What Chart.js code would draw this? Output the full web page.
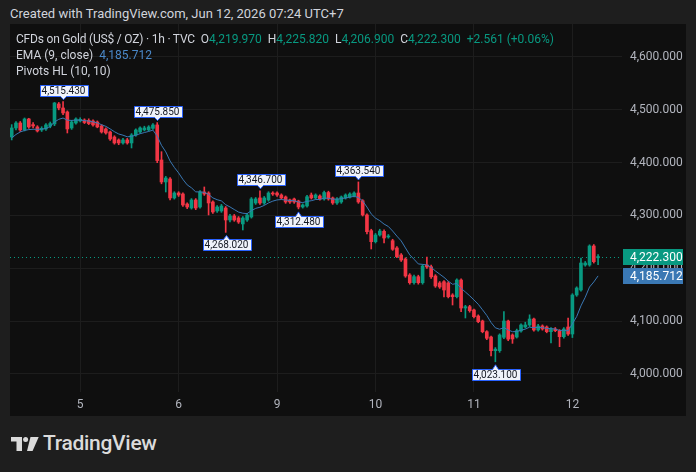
<!DOCTYPE html>
<html>
<head>
<meta charset="utf-8">
<script src="https://cdn.jsdelivr.net/npm/chart.js@4.4.1/dist/chart.umd.min.js"></script>
<style>
  body { margin: 0; width: 696px; height: 472px; background: #1e1e1e; overflow: hidden; position: relative; font-family: Roboto, sans-serif; }
  #hdr { position: absolute; left: 10px; top: 4px; font-size: 13px; line-height: 19px; color: #d1d4dc; white-space: nowrap; }
  #panel { position: absolute; left: 10px; top: 24px; width: 676px; height: 392px; background: #0f0f0f; }
  #legend { position: absolute; left: 16px; top: 31px; font-size: 12px; line-height: 16px; color: #d1d4dc; white-space: nowrap; }
  .tight { letter-spacing: -0.2px; }
  .g { color: #089981; }
  .b { color: #4a88c8; }
  #foot { position: absolute; left: 43px; top: 431px; font-size: 21px; line-height: 24px; font-weight: 500; color: #dbdbdb; letter-spacing: -0.3px; }
  #logo { position: absolute; left: 11px; top: 437px; }
</style>
</head>
<body>
<div id="hdr">Created with TradingView.com, Jun 12, 2026 07:24 UTC+7</div>
<div id="panel"><canvas id="c"></canvas></div>
<div id="legend">
  <div><span class="tight">CFDs on Gold (US$ / OZ) · 1h · TVC</span>&nbsp; O<span class="g">4,219.970</span>&nbsp; H<span class="g">4,225.820</span>&nbsp; L<span class="g">4,206.900</span>&nbsp; C<span class="g">4,222.300</span>&nbsp; <span class="g">+2.561 (+0.06%)</span></div>
  <div>EMA (9, close)&nbsp; <span class="b">4,185.712</span></div>
  <div>Pivots HL (10, 10)</div>
</div>
<svg id="logo" width="28" height="14" viewBox="0 0 28 14">
  <path d="M0 0H11V14H5.5V4.6H0Z" fill="#dbdbdb"/>
  <circle cx="14.6" cy="2.5" r="2.5" fill="#dbdbdb"/>
  <path d="M19.5 0H27.7L21.6 14H16Z" fill="#dbdbdb"/>
</svg>
<div id="foot">TradingView</div>

<script>
// hourly candles
const opens = [4448.6,4465.7,4475.1,4462.0,4482.7,4472.0,4467.6,4461.9,4463.8,4469.0,
  4473.3,4511.1,4503.5,4496.0,4465.7,4475.1,4479.0,4480.8,4480.0,4478.9,
  4477.0,4469.5,4463.8,4458.1,4448.6,4443.0,4437.3,4443.0,4437.3,4452.4,
  4458.1,4462.0,4462.0,4465.0,4471.4,4405.1,4363.5,4369.1,4333.2,4342.6,
  4340.7,4321.8,4314.2,4329.4,4316.1,4344.5,4342.6,4325.6,4308.6,4308.6,
  4314.2,4291.5,4299.1,4295.3,4284.0,4291.5,4297.2,4323.7,4333.2,4323.7,
  4329.4,4342.6,4342.6,4338.8,4335.1,4329.4,4331.3,4327.5,4316.1,4318.0,
  4338.8,4333.2,4336.9,4331.3,4343.5,4333.2,4323.7,4325.6,4333.2,4335.1,
  4336.9,4342.6,4328.0,4301.0,4271.3,4250.5,4263.1,4270.0,4259.3,4252.3,
  4238.5,4225.3,4217.7,4187.4,4172.8,4184.2,4172.8,4206.3,4203.0,4185.5,
  4172.3,4174.7,4172.3,4149.5,4146.3,4177.9,4124.9,4127.4,4121.2,4109.8,
  4100.3,4080.1,4070.0,4044.1,4044.1,4069.5,4100.3,4073.8,4070.0,4081.4,
  4089.0,4092.8,4104.1,4083.3,4090.9,4089.0,4080.1,4085.2,4082.0,4070.6,
  4089.0,4075.7,4149.5,4159.0,4206.3,4206.3,4242.3,4219.97];
const highs = [4472.0,4478.0,4478.0,4484.6,4484.0,4476.0,4470.0,4468.0,4474.0,4477.0,
  4514.0,4514.0,4515.43,4498.0,4480.0,4485.0,4485.0,4483.0,4483.0,4481.0,
  4479.0,4472.0,4466.0,4460.0,4451.0,4445.0,4446.0,4446.0,4455.0,4464.0,
  4468.0,4469.0,4470.0,4474.0,4475.85,4420.8,4374.0,4372.0,4345.0,4345.0,
  4343.0,4324.0,4332.0,4332.0,4347.0,4354.0,4345.0,4328.0,4319.0,4321.0,
  4317.0,4302.0,4302.0,4298.0,4298.0,4304.0,4334.0,4334.0,4346.7,4336.0,
  4345.0,4345.0,4345.0,4341.0,4337.0,4331.0,4333.0,4329.0,4322.0,4338.0,
  4342.6,4341.0,4339.0,4346.0,4346.0,4335.0,4334.0,4337.0,4341.0,4343.0,
  4345.0,4363.54,4330.0,4303.0,4274.0,4266.0,4274.0,4273.0,4264.0,4255.0,
  4241.0,4228.0,4220.0,4190.0,4187.0,4187.0,4207.0,4221.5,4206.0,4188.0,
  4175.0,4177.0,4175.0,4152.0,4180.0,4180.0,4130.0,4130.0,4123.0,4112.0,
  4102.0,4082.0,4072.0,4050.0,4076.0,4118.0,4102.0,4076.0,4085.0,4095.0,
  4098.0,4112.0,4106.0,4094.0,4093.0,4091.0,4088.0,4088.0,4084.0,4088.0,
  4106.0,4152.0,4165.0,4219.6,4213.0,4244.5,4245.0,4225.82];
const lows = [4443.0,4462.0,4459.0,4460.0,4465.0,4466.0,4458.0,4459.0,4461.0,4466.0,
  4470.0,4500.0,4491.0,4456.2,4463.0,4473.0,4477.0,4474.0,4472.0,4469.0,
  4466.0,4456.0,4454.0,4442.0,4435.0,4434.0,4435.0,4435.0,4427.8,4450.0,
  4456.0,4460.0,4460.0,4463.0,4400.0,4360.0,4344.5,4329.4,4331.0,4336.0,
  4317.0,4313.0,4312.0,4311.0,4314.0,4338.0,4301.0,4304.0,4306.0,4306.0,
  4268.02,4288.0,4289.0,4285.0,4272.6,4289.0,4295.0,4321.0,4321.0,4321.0,
  4327.0,4338.0,4336.0,4331.0,4323.0,4323.0,4323.0,4312.48,4314.0,4316.0,
  4331.0,4331.0,4329.0,4329.0,4329.0,4321.0,4321.0,4323.0,4331.0,4333.0,
  4335.0,4323.0,4299.0,4265.0,4236.6,4248.0,4261.0,4248.0,4257.0,4234.0,
  4220.0,4213.0,4183.0,4170.0,4170.0,4170.0,4170.0,4200.0,4181.0,4164.0,
  4162.0,4146.0,4144.0,4130.6,4144.0,4118.0,4106.0,4117.0,4106.0,4097.0,
  4078.0,4065.0,4034.0,4023.1,4041.0,4067.0,4063.0,4058.0,4068.0,4079.0,
  4087.0,4090.0,4081.0,4081.0,4083.0,4078.0,4059.0,4080.0,4051.7,4068.0,
  4073.0,4069.0,4147.0,4157.0,4204.0,4204.0,4210.0,4206.9];
const closes = [4465.7,4475.1,4461.9,4482.7,4467.6,4469.5,4460.0,4465.0,4471.4,4474.0,
  4513.0,4503.5,4494.1,4463.8,4477.0,4482.7,4482.0,4476.0,4474.0,4471.4,
  4467.6,4458.1,4456.2,4444.8,4437.3,4437.3,4443.0,4437.3,4452.4,4461.9,
  4465.7,4465.7,4467.6,4471.4,4404.0,4363.5,4371.0,4333.2,4342.6,4338.8,
  4319.9,4316.1,4329.4,4314.2,4344.5,4340.7,4323.7,4306.7,4316.1,4318.0,
  4291.5,4299.1,4291.5,4287.7,4295.3,4301.0,4331.3,4331.3,4323.7,4333.2,
  4342.6,4340.7,4338.8,4333.2,4325.6,4325.6,4325.6,4316.1,4319.9,4335.5,
  4333.2,4338.8,4331.3,4343.5,4331.3,4323.7,4331.3,4335.1,4338.8,4340.7,
  4342.6,4325.6,4301.0,4269.4,4250.5,4263.1,4270.7,4257.4,4261.2,4236.0,
  4222.0,4215.8,4185.5,4172.8,4184.2,4172.8,4204.4,4202.6,4184.0,4166.6,
  4164.7,4159.0,4146.3,4146.3,4177.9,4124.9,4127.4,4119.8,4108.5,4099.0,
  4080.1,4067.6,4044.1,4047.0,4073.8,4100.3,4066.0,4066.3,4082.0,4092.8,
  4092.8,4104.1,4083.3,4090.9,4085.2,4080.1,4085.2,4082.0,4070.6,4085.2,
  4075.7,4149.5,4162.8,4210.1,4210.0,4242.3,4212.6,4222.3];
// EMA (9, close) line as drawn
const ema = [4446.7,4453.4,4458.1,4461.0,4462.6,4463.2,4463.2,4463.4,4464.7,4468.5,
  4477.0,4482.0,4484.5,4480.4,4480.0,4480.5,4480.6,4479.7,4478.6,4477.2,
  4475.3,4471.8,4468.7,4463.9,4458.6,4454.3,4452.0,4449.0,4449.7,4452.0,
  4454.8,4457.0,4459.1,4461.6,4450.1,4432.8,4420.5,4403.1,4391.0,4380.6,
  4368.4,4358.0,4352.4,4344.7,4344.7,4343.9,4339.9,4333.3,4329.9,4327.6,
  4320.4,4316.2,4311.3,4306.5,4304.3,4303.6,4309.1,4313.5,4315.6,4319.1,
  4323.8,4327.2,4329.5,4330.2,4329.3,4328.5,4328.0,4325.6,4324.5,4326.7,
  4328.0,4330.2,4330.4,4333.0,4332.6,4330.8,4330.9,4331.8,4333.2,4334.7,
  4336.3,4334.2,4327.6,4316.0,4303.0,4295.0,4290.2,4283.7,4279.2,4270.6,
  4260.9,4251.9,4238.6,4225.5,4217.2,4208.3,4207.5,4206.5,4202.0,4195.0,
  4189.0,4183.0,4175.7,4169.8,4171.4,4162.1,4155.2,4148.1,4140.2,4132.0,
  4121.6,4110.8,4097.5,4087.4,4084.7,4087.8,4083.4,4080.0,4080.4,4082.9,
  4084.9,4088.7,4087.6,4088.3,4087.7,4086.2,4086.0,4085.2,4082.3,4082.9,
  4081.5,4095.1,4108.7,4129.0,4145.2,4164.6,4174.2,4185.712];

const dayIdx = [16, 39, 62, 85, 108, 131];
const dayLabels = ['5', '6', '9', '10', '11', '12'];
const priceTicks = [4000, 4100, 4200, 4300, 4400, 4500, 4600];

const pivotIdx = [12, 34, 50, 58, 67, 81, 113];
const pivotVal = [4515.43, 4475.85, 4268.02, 4346.70, 4312.48, 4363.54, 4023.10];
const pivotType = ['H', 'H', 'L', 'H', 'L', 'H', 'L'];

const UP = '#089981', DOWN = '#f23645', EMA_COL = '#3a78b4';
const fmt = v => v.toLocaleString('en-US', { minimumFractionDigits: 3, maximumFractionDigits: 3 });
const candleCol = opens.map((o, i) => closes[i] >= o ? UP : DOWN);

Chart.defaults.font.family = 'Roboto';

const marks = {
  id: 'marks',
  beforeDatasetsDraw(chart) {
    const { ctx, chartArea: a, scales: { y } } = chart;
    const py = Math.round(y.getPixelForValue(closes[closes.length - 1])) + 0.5;
    ctx.save();
    ctx.strokeStyle = UP;
    ctx.lineWidth = 1;
    ctx.setLineDash([1, 3]);
    ctx.beginPath();
    ctx.moveTo(a.left, py);
    ctx.lineTo(a.right, py);
    ctx.stroke();
    ctx.restore();
  },
  afterDraw(chart) {
    const { ctx, chartArea: a, scales: { x, y } } = chart;
    ctx.save();
    ctx.font = '10px Roboto';
    ctx.textBaseline = 'middle';
    ctx.textAlign = 'center';
    ctx.lineWidth = 1;
    pivotIdx.forEach((idx, k) => {
      const px = Math.round(x.getPixelForValue(idx)) + 0.5;
      const py = y.getPixelForValue(pivotVal[k]);
      const txt = fmt(pivotVal[k]);
      const w = Math.round(ctx.measureText(txt).width + 4), h = 11;
      const hi = pivotType[k] === 'H';
      const bx = Math.round(px - w / 2) + 0.5;
      const by = Math.round(hi ? py - 6 - h : py + 7) + 0.5;
      ctx.beginPath();
      if (hi) {
        ctx.moveTo(bx, by); ctx.lineTo(bx + w, by); ctx.lineTo(bx + w, by + h);
        ctx.lineTo(px + 3, by + h); ctx.lineTo(px, py - 2); ctx.lineTo(px - 3, by + h);
        ctx.lineTo(bx, by + h);
      } else {
        ctx.moveTo(bx, by); ctx.lineTo(px - 3, by); ctx.lineTo(px, py + 3); ctx.lineTo(px + 3, by);
        ctx.lineTo(bx + w, by); ctx.lineTo(bx + w, by + h); ctx.lineTo(bx, by + h);
      }
      ctx.closePath();
      ctx.fillStyle = '#f0f3fa';
      ctx.fill();
      ctx.strokeStyle = '#2962ff';
      ctx.stroke();
      ctx.fillStyle = '#131722';
      ctx.fillText(txt, px, by + h / 2 + 0.5);
    });

    // price tags on the scale
    ctx.font = '12px Roboto';
    ctx.textAlign = 'left';
    [[closes[closes.length - 1], UP], [ema[ema.length - 1], EMA_COL]].forEach(([v, col]) => {
      const top = Math.round(y.getPixelForValue(v) - 8);
      ctx.fillStyle = col;
      ctx.fillRect(a.right + 1, top, 60, 16);
      ctx.fillStyle = '#ffffff';
      ctx.fillText(fmt(v), a.right + 8, top + 8.5);
    });
    ctx.restore();
  }
};

new Chart(document.getElementById('c'), {
  type: 'bar',
  data: {
    datasets: [
      {
        type: 'line',
        data: ema.map((v, i) => ({ x: i, y: v })),
        borderColor: EMA_COL,
        borderWidth: 1,
        pointRadius: 0,
        tension: 0,
        order: 0
      },
      {
        data: opens.map((o, i) => ({ x: i, y: [o, closes[i]] })),
        backgroundColor: candleCol,
        barThickness: 3,
        minBarLength: 1,
        grouped: false,
        order: 1
      },
      {
        data: lows.map((l, i) => ({ x: i, y: [l, highs[i]] })),
        backgroundColor: candleCol,
        barThickness: 1,
        grouped: false,
        order: 2
      }
    ]
  },
  options: {
    responsive: true,
    maintainAspectRatio: false,
    animation: false,
    events: [],
    layout: { padding: 0 },
    plugins: { legend: { display: false }, tooltip: { enabled: false } },
    scales: {
      x: {
        type: 'linear',
        offset: false,
        min: -0.397,
        max: 142.59,
        grid: { color: '#1d1d1d', offset: false, drawTicks: false },
        border: { display: false },
        afterBuildTicks: s => { s.ticks = dayIdx.map(v => ({ value: v })); },
        afterFit: s => { s.height = 24; s.paddingLeft = 0; s.paddingRight = 0; },
        ticks: {
          color: '#b2b5be',
          font: { size: 12 },
          padding: 6,
          maxRotation: 0,
          autoSkip: false,
          callback: v => dayLabels[dayIdx.indexOf(v)]
        }
      },
      y: {
        position: 'right',
        min: 3965.93,
        max: 4662.46,
        grid: { color: '#1d1d1d', drawTicks: false },
        border: { display: false },
        afterBuildTicks: s => { s.ticks = priceTicks.map(v => ({ value: v })); },
        afterFit: s => { s.width = 64; s.paddingTop = 0; s.paddingBottom = 0; },
        ticks: {
          color: '#b2b5be',
          font: { size: 12 },
          padding: 8,
          callback: v => fmt(v)
        }
      }
    }
  },
  plugins: [marks]
});
</script>
</body>
</html>
